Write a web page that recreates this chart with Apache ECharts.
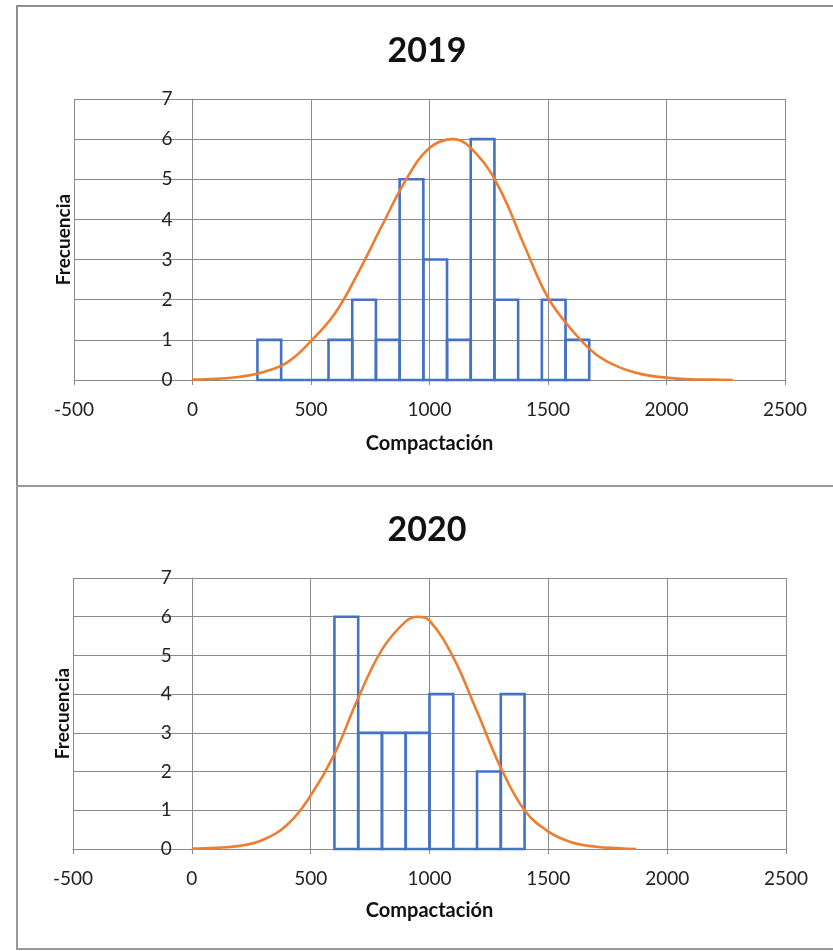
<!DOCTYPE html>
<html>
<head>
<meta charset="utf-8">
<script src="https://cdn.jsdelivr.net/npm/echarts@6/dist/echarts.min.js"></script>
<style>
html,body{margin:0;padding:0;background:#fff;}
#chart{width:833px;height:951px;}
</style>
</head>
<body>
<div id="chart"></div>
<script>
// ---- data ----
const titles = ['2019', '2020'];
const xTicks = [-500, 0, 500, 1000, 1500, 2000, 2500];
const yTicks = [0, 1, 2, 3, 4, 5, 6, 7];

const binEdges2019 = [274, 374, 474, 574, 674, 774, 874, 974, 1074, 1174, 1274, 1374, 1474, 1574, 1674];
const counts2019   = [1, 0, 0, 1, 2, 1, 5, 3, 1, 6, 2, 0, 2, 1];

const binEdges2020 = [600, 700, 800, 900, 1000, 1100, 1200, 1300, 1400];
const counts2020   = [6, 3, 3, 3, 4, 0, 2, 4];

const curveX2019 = [0, 100, 200, 300, 400, 500, 600, 700, 800, 900, 1000, 1100, 1200, 1300, 1400, 1500, 1600, 1700, 1800, 1900, 2000, 2100, 2200, 2280];
const curveY2019 = [0.01, 0.03, 0.08, 0.2, 0.44, 0.97, 1.65, 2.68, 3.85, 4.98, 5.78, 6.0, 5.62, 4.72, 3.35, 2.05, 1.25, 0.65, 0.32, 0.14, 0.06, 0.02, 0.01, 0];

const curveX2020 = [0, 100, 200, 300, 400, 500, 600, 700, 800, 900, 950, 1000, 1100, 1200, 1300, 1400, 1500, 1600, 1700, 1800, 1870];
const curveY2020 = [0.01, 0.03, 0.08, 0.24, 0.62, 1.38, 2.45, 3.9, 5.15, 5.88, 6.0, 5.9, 4.95, 3.55, 2.1, 1.0, 0.45, 0.17, 0.06, 0.02, 0];

// ---- build ----
function bins(edges, counts) {
  return counts.map((c, i) => [edges[i], edges[i + 1], c]);
}
function pairs(xs, ys) { return xs.map((x, i) => [x, ys[i]]); }

const FONT = 'Lato, "Open Sans", sans-serif';
const GRID_COLOR = '#8a8a8a';
const BLUE = '#4472C4';
const ORANGE = '#ED7D31';

const grids = [
  {left: 74, right: 48, top: 99, height: 281, outerBoundsMode: 'none', containLabel: false},
  {left: 73, right: 47, top: 578, height: 271, outerBoundsMode: 'none', containLabel: false}
];
// y axis crosses the x axis at 0: shift it right by the width of the -500..0 span
const yOffsets = [-(833 - 74 - 48) / 6, -(833 - 73 - 47) / 6];

function xAxis(i) {
  return {
    type: 'value', gridIndex: i,
    min: xTicks[0], max: xTicks[xTicks.length - 1], interval: 500,
    name: 'Compactación', nameLocation: 'middle', nameGap: i === 0 ? 54 : 52,
    nameTextStyle: {fontFamily: FONT, fontWeight: 'bold', fontSize: 20, color: '#111'},
    axisLine: {show: true, lineStyle: {color: GRID_COLOR, width: 1}},
    axisTick: {show: true, length: 5, lineStyle: {color: GRID_COLOR}},
    axisLabel: {margin: 20, fontFamily: FONT, fontSize: 19, color: '#222',
                formatter: function (v) { return String(v); }},
    splitLine: {show: true, lineStyle: {color: GRID_COLOR, width: 1}}
  };
}
function yAxis(i) {
  return {
    type: 'value', gridIndex: i, position: 'left', offset: yOffsets[i],
    min: yTicks[0], max: yTicks[yTicks.length - 1], interval: 1,
    name: 'Frecuencia', nameLocation: 'middle', nameGap: 119, nameRotate: 90,
    nameMoveOverlap: false,
    nameTextStyle: {fontFamily: FONT, fontWeight: 'bold', fontSize: 19, color: '#111'},
    axisLine: {show: true, onZero: false, lineStyle: {color: GRID_COLOR, width: 1}},
    axisTick: {show: true, length: 5, lineStyle: {color: GRID_COLOR}},
    axisLabel: {margin: 20, fontFamily: FONT, fontSize: 19, color: '#222',
                formatter: function (v) { return String(v); }},
    splitLine: {show: true, lineStyle: {color: GRID_COLOR, width: 1}}
  };
}

function histSeries(i, data) {
  return {
    type: 'custom', xAxisIndex: i, yAxisIndex: i,
    data: data,
    encode: {x: [0, 1], y: 2},
    renderItem: function (params, api) {
      const p0 = api.coord([api.value(0), api.value(2)]);
      const p1 = api.coord([api.value(1), 0]);
      return {
        type: 'rect',
        shape: {x: p0[0], y: p0[1], width: p1[0] - p0[0], height: p1[1] - p0[1]},
        style: {fill: 'none', stroke: BLUE, lineWidth: 2.6}
      };
    },
    z: 3
  };
}
function curveSeries(i, data) {
  return {
    type: 'line', xAxisIndex: i, yAxisIndex: i,
    data: data, smooth: 0.4, showSymbol: false, symbol: 'none',
    lineStyle: {color: ORANGE, width: 2.6},
    z: 4
  };
}

const chart = echarts.init(document.getElementById('chart'), null, {renderer: 'canvas'});
chart.setOption({
  backgroundColor: '#fff',
  animation: false,
  title: [
    {text: titles[0], left: 422, top: 29, textAlign: 'center',
     textStyle: {fontFamily: FONT, fontWeight: 'bold', fontSize: 34, color: '#111'}},
    {text: titles[1], left: 422, top: 508, textAlign: 'center',
     textStyle: {fontFamily: FONT, fontWeight: 'bold', fontSize: 34, color: '#111'}}
  ],
  graphic: [
    {type: 'rect', shape: {x: 17, y: 6, width: 830, height: 480},
     style: {fill: 'none', stroke: '#8f8f8f', lineWidth: 2}, silent: true},
    {type: 'rect', shape: {x: 17, y: 486, width: 830, height: 463},
     style: {fill: 'none', stroke: '#9a9a9a', lineWidth: 2}, silent: true}
  ],
  grid: grids,
  xAxis: [xAxis(0), xAxis(1)],
  yAxis: [yAxis(0), yAxis(1)],
  series: [
    histSeries(0, bins(binEdges2019, counts2019)),
    curveSeries(0, pairs(curveX2019, curveY2019)),
    histSeries(1, bins(binEdges2020, counts2020)),
    curveSeries(1, pairs(curveX2020, curveY2020))
  ]
});
</script>
</body>
</html>
